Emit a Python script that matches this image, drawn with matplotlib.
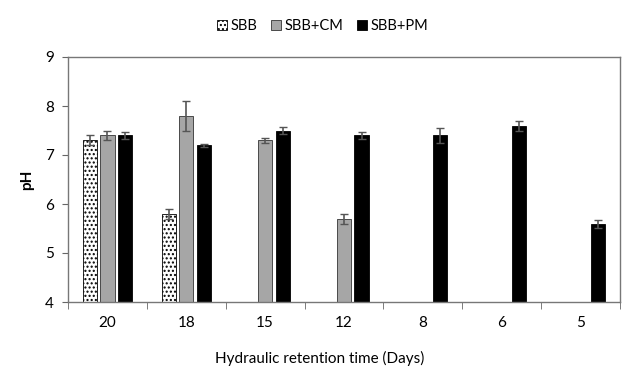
import numpy as np
import matplotlib.pyplot as plt

plt.rcParams['font.family'] = ['Lato', 'DejaVu Sans']
plt.rcParams['hatch.linewidth'] = 1.0

hrt = ['20', '18', '15', '12', '8', '6', '5']
sbb = [7.3, 5.8, np.nan, np.nan, np.nan, np.nan, np.nan]
sbb_err = [0.1, 0.1, 0, 0, 0, 0, 0]
sbb_cm = [7.4, 7.8, 7.3, 5.7, np.nan, np.nan, np.nan]
sbb_cm_err = [0.1, 0.3, 0.05, 0.1, 0, 0, 0]
sbb_pm = [7.4, 7.2, 7.5, 7.4, 7.4, 7.6, 5.6]
sbb_pm_err = [0.07, 0.03, 0.07, 0.07, 0.15, 0.1, 0.08]

fig = plt.figure(figsize=(6.39, 3.78), dpi=100, facecolor='white')
ax = fig.add_axes([68/639, 1-302/378, 552/639, 245/378])

x = np.arange(len(hrt))
w = 0.18
off = 0.222
err_kw = dict(ecolor='#555555', capsize=3, elinewidth=1.2, capthick=1.0)

ax.bar(x - off, sbb, w, bottom=0, color='white', edgecolor='black', hatch='....',
       linewidth=0.6, yerr=sbb_err, error_kw=err_kw, label='SBB')
ax.bar(x, sbb_cm, w, color='#a6a6a6', edgecolor='#333333', linewidth=0.6,
       yerr=sbb_cm_err, error_kw=err_kw, label='SBB+CM')
ax.bar(x + off, sbb_pm, w, color='black', edgecolor='black', linewidth=0.6,
       yerr=sbb_pm_err, error_kw=err_kw, label='SBB+PM')

ax.set_xlim(-0.5, len(hrt) - 0.5)
ax.set_ylim(4, 9)
ax.set_yticks([4, 5, 6, 7, 8, 9])
ax.set_xticks(x)
ax.set_xticklabels(hrt)
ax.set_xticks(np.arange(-0.5, len(hrt)), minor=True)
ax.tick_params(axis='x', which='major', length=0, pad=10, labelsize=11)
ax.tick_params(axis='x', which='minor', length=5, color='#666666')
ax.tick_params(axis='y', length=4, color='#666666', labelsize=11, pad=6)
for s in ax.spines.values():
    s.set_color('#777777')
    s.set_linewidth(1.0)

ax.set_ylabel('pH', fontsize=11, fontweight='bold', labelpad=8)
ax.set_xlabel('Hydraulic retention time (Days)', fontsize=11, labelpad=14)
ax.xaxis.set_label_coords((320 - 68) / 552, -0.2)

fig.legend(loc='upper center', bbox_to_anchor=(0.505, 0.985), ncol=3, frameon=False,
           fontsize=10.5, handlelength=0.7, handleheight=0.7, handletextpad=0.25,
           columnspacing=0.9)

fig.savefig('out.png', dpi=100)
